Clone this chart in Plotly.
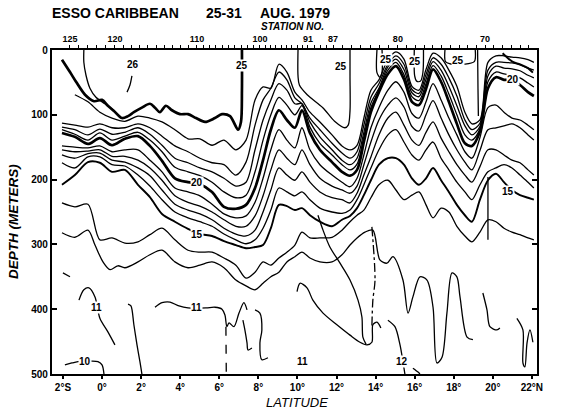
import plotly.graph_objects as go

# ---------------------------------------------------------------------------
# Temperature section, ESSO CARIBBEAN 25-31 Aug 1979
# Isotherm depths (m) read along the section (latitude, deg N; negative = S)
# ---------------------------------------------------------------------------

KNOT_LAT = [-2.05, -1.39, -0.72, -0.11, 0.51, 1.17, 1.84, 2.45, 3.07, 3.73,
            4.40, 5.01, 5.63, 6.24, 6.85, 7.37, 7.83, 8.24, 8.64, 9.05,
            9.46, 9.87, 10.23, 10.64, 11.15, 11.77, 12.28, 12.69, 13.05, 13.40,
            13.76, 14.17, 14.63, 15.04, 15.45, 15.86, 16.22, 16.58, 16.94, 17.35,
            17.75, 18.16, 18.57, 18.93, 19.34, 19.75, 20.16, 20.57, 20.98, 21.39,
            21.80, 22.10]

ISO_24 = [None, 69, 80, 96, 105, 110, 102, 105, 111, 123, 137, 137, 147, 139, 154, 139, 77, 57, 59, 22,
          34, 65, 77, 96, 111, 131, 148, 154, 147, 105, 62, 46, 15, 3, 14, 56, 62, 30, 5, 12,
          31, 56, 96, 114, 108, 19, 9, 9, 11, 12, 15, 19]
ISO_23 = [113, 116, 119, 114, 120, 120, 114, 120, 133, 148, 157, 167, 174, 177, 193, 173, 116, 77, 59, 34,
          46, 74, 83, 105, 123, 144, 159, 167, 157, 116, 73, 52, 22, 9, 22, 61, 67, 38, 12, 22,
          43, 71, 108, 123, 113, 31, 19, 19, 20, 23, 28, 31]
ISO_22 = [119, 123, 131, 122, 130, 127, 120, 130, 147, 167, 174, 182, 188, 198, 210, 204, 154, 108, 77, 52,
          62, 83, 83, 111, 134, 154, 170, 177, 167, 127, 82, 59, 26, 14, 30, 66, 72, 45, 18, 31,
          56, 86, 117, 131, 118, 40, 25, 28, 29, 32, 39, 43]
ISO_21 = [123, 130, 139, 128, 139, 133, 127, 139, 157, 181, 188, 194, 204, 219, 228, 224, 188, 139, 100, 73,
          85, 100, 86, 119, 144, 162, 177, 185, 176, 134, 89, 62, 31, 19, 38, 72, 78, 52, 24, 40,
          68, 100, 131, 139, 122, 49, 34, 37, 39, 43, 51, 57]
ISO_20 = [128, 134, 145, 136, 147, 137, 133, 148, 171, 198, 204, 207, 219, 242, 245, 239, 213, 170, 123, 93,
          108, 120, 93, 128, 154, 173, 188, 194, 185, 142, 96, 65, 37, 25, 45, 80, 85, 60, 30, 49,
          80, 114, 144, 148, 126, 59, 42, 46, 46, 54, 65, 71]
ISO_19 = [148, 150, 151, 148, 157, 154, 154, 170, 188, 213, 219, 225, 238, 253, 259, 256, 235, 198, 154, 123,
          139, 151, 120, 154, 177, 193, 204, 211, 198, 162, 120, 89, 62, 49, 65, 98, 105, 80, 52, 77,
          105, 131, 157, 167, 135, 89, 85, 96, 105, 108, 116, 123]
ISO_18 = [154, 157, 156, 154, 164, 164, 170, 182, 201, 225, 235, 241, 250, 262, 272, 272, 256, 225, 185, 154,
          167, 177, 154, 177, 198, 210, 216, 221, 210, 177, 142, 108, 85, 74, 88, 118, 125, 100, 78, 105,
          131, 154, 173, 185, 155, 123, 120, 117, 114, 120, 131, 139]
ISO_17 = [162, 167, 160, 159, 170, 173, 182, 194, 216, 238, 247, 253, 262, 275, 284, 287, 278, 250, 216, 182,
          193, 201, 188, 204, 219, 228, 231, 236, 221, 193, 165, 131, 105, 96, 116, 139, 147, 127, 111, 136,
          157, 177, 193, 204, 180, 154, 154, 162, 170, 174, 185, 193]
ISO_16 = [174, 182, 165, 165, 177, 179, 193, 210, 231, 250, 259, 265, 272, 284, 293, 299, 293, 275, 247, 213,
          219, 225, 219, 231, 244, 250, 252, 247, 231, 208, 182, 154, 131, 123, 142, 162, 170, 154, 142, 167,
          185, 204, 219, 231, 208, 188, 182, 177, 182, 193, 204, 213]
ISO_15 = [208, 193, 173, 174, 188, 185, 208, 227, 253, 265, 276, 284, 287, 295, 301, 306, 304, 301, 275, 239,
          241, 247, 244, 255, 265, 272, 262, 256, 244, 224, 201, 177, 167, 167, 177, 198, 208, 198, 182, 201,
          219, 239, 255, 265, 231, 201, 191, 204, 216, 224, 228, 231]
ISO_14 = [236, 242, 238, 293, 290, 298, 296, 285, 275, 293, 309, 312, 312, 321, 332, 352, 343, 327, 332, 321,
          312, 301, 281, 290, 290, 289, 278, 265, 255, 247, 228, 208, 201, 216, 231, 224, 219, 239, 259, 244,
          250, 272, 287, 296, 281, 262, 265, 275, 281, 285, 290, 293]

# 25 deg isotherm pieces (it outcrops in several places)
ISO_25_A_LAT = [-2.05, -1.64, -1.33, -0.87, -0.41, 0.0, 0.30, 0.61, 1.02, 1.33, 1.63, 2.04, 2.45, 2.71,
                2.96, 3.27, 3.58, 3.99, 4.40, 4.81, 5.27, 5.78, 6.14, 6.55, 6.96, 7.11, 7.16, 7.16]
ISO_25_A_DEPTH = [15, 34, 49, 69, 79, 77, 86, 94, 105, 102, 96, 89, 83, 89,
                  96, 86, 93, 99, 99, 105, 111, 105, 99, 102, 123, 111, 62, 0]
ISO_25_B_LAT = [10.03, 10.03, 10.10, 10.50, 11.30, 11.90, 12.43, 12.60, 12.69, 12.69, 12.69]
ISO_25_B_DEPTH = [0, 40, 54, 69, 89, 110, 120, 116, 94, 40, 0]
ISO_25_C_LAT = [14.07, 14.07, 14.22, 14.33, 14.33]
ISO_25_C_DEPTH = [0, 35, 42, 34, 0]
ISO_25_D_LAT = [15.98, 16.00, 16.10, 16.30, 16.42, 16.45]
ISO_25_D_DEPTH = [0, 40, 48, 48, 35, 0]
ISO_25_E_LAT = [17.55, 17.58, 17.90, 18.50, 19.05, 19.10]
ISO_25_E_DEPTH = [0, 18, 22, 22, 18, 0]
ISO_25_F_LAT = [19.22, 19.24, 19.26]
ISO_25_F_DEPTH = [0, 60, 102]

# 26 deg pieces
ISO_26_A_LAT = [1.53, 1.43, 1.28]
ISO_26_A_DEPTH = [40, 54, 65]
ISO_26_B_LAT = [-0.93, -0.93, -0.82, -0.62, -0.31, 0.15, 0.61]
ISO_26_B_DEPTH = [0, 19, 39, 59, 73, 83, 93]

# near-surface line at the northern end
NORTH_SURF_LAT = [20.5, 21.0, 21.4, 21.8, 22.05]
NORTH_SURF_DEPTH = [5, 18, 22, 28, 35]

# 13 deg
ISO_13_LAT = [-2.05, -1.39, -0.72, -0.36, 0.05, 0.41, 0.81, 1.17, 1.84, 2.45, 3.07, 3.73, 4.40, 5.01,
              5.63, 6.24, 6.85, 7.37, 7.83, 8.24, 8.64, 9.05, 9.46, 9.87, 10.23, 10.64, 11.15, 11.77,
              12.28, 12.69, 13.05, 13.46, 13.86, 14.22, 14.58, 14.89, 15.40, 15.66, 15.91, 16.27,
              16.63, 16.94, 17.14, 17.40, 17.65, 17.91, 18.16, 18.32, 18.68, 18.98]
ISO_13_DEPTH = [282, 289, 278, 301, 327, 339, 333, 336, 327, 316, 309, 327, 336, 332,
                327, 336, 355, 364, 370, 360, 350, 343, 327, 319, 312, 321, 327, 327,
                316, 301, 290, 281, 278, 324, 329, 319, 355, 406, 381, 350,
                355, 397, 483, 474, 406, 344, 350, 381, 443, 447]

# 12 deg: tongue south of 14N and the branch near 15N
ISO_12_LOW_LAT = [9.98, 10.13, 10.49, 10.79, 11.31, 12.02, 12.69, 13.20, 13.56, 13.81, 13.86, 14.07, 14.27]
ISO_12_LOW_DEPTH = [373, 360, 367, 386, 406, 424, 440, 451, 455, 451, 424, 420, 429]
ISO_12_UP_LAT = [11.05, 11.31, 11.66, 12.18, 12.69, 13.10, 13.30, 13.35, 13.51]
ISO_12_UP_DEPTH = [255, 278, 304, 329, 355, 386, 412, 443, 454]
ISO_12_N_LAT = [14.63, 14.99, 15.25, 15.40, 15.50]
ISO_12_N_DEPTH = [417, 427, 455, 481, 500]

# 11 deg pieces
ISO_11_A_LAT = [-1.18, -0.93, -0.67, -0.36, -0.11, 0.30, 0.66]
ISO_11_A_DEPTH = [386, 370, 367, 381, 414, 435, 455]
ISO_11_B_LAT = [1.33, 1.48, 1.63, 1.79, 1.94, 2.04]
ISO_11_B_DEPTH = [392, 395, 424, 455, 481, 500]
ISO_11_C_LAT = [2.71, 3.07, 3.48, 3.94, 4.40, 5.32, 5.78, 6.14, 6.29, 6.39, 6.50, 6.75, 7.01, 7.26, 7.42]
ISO_11_C_DEPTH = [397, 390, 389, 395, 398, 398, 397, 400, 409, 427, 421, 427, 406, 390, 401]
ISO_11_D_LAT = [7.21, 7.31, 7.42, 7.47, 7.67]
ISO_11_D_DEPTH = [417, 432, 452, 463, 460]
ISO_11_E_LAT = [7.83, 8.08, 8.18, 8.08, 8.18, 8.49]
ISO_11_E_DEPTH = [401, 406, 432, 452, 478, 475]
ISO_11_F_LAT = [19.49, 19.70, 19.85, 20.21, 20.36]
ISO_11_F_DEPTH = [375, 401, 427, 432, 429]
ISO_11_G_LAT = [21.23, 21.54, 21.54, 21.64, 21.75, 21.90, 22.05]
ISO_11_G_DEPTH = [414, 432, 483, 489, 452, 432, 451]
ISO_11_H_LAT = [15.91, 16.17, 16.27]
ISO_11_H_DEPTH = [491, 497, 500]

# 10 deg
ISO_10_LAT = [-1.90, -1.54, -1.23, -0.52, -0.21, 0.0, 0.10]
ISO_10_DEPTH = [486, 483, 481, 480, 481, 486, 500]

# broken / uncertain pieces
DASH_A_LAT = [-2.0, -1.64]
DASH_A_DEPTH = [344, 350]
DASH_B_LAT = [6.34, 6.36]
DASH_B_DEPTH = [427, 500]
DASH_C_LAT = [13.81, 13.97, 13.86, 13.81]
DASH_C_DEPTH = [273, 355, 386, 427]
VERT_N_LAT = [19.75, 19.75]
VERT_N_DEPTH = [196, 293]

# contour labels
LABEL_TEXT = ["26", "25", "25", "25", "25", "25", "20", "20", "15", "15", "11", "11", "11", "12", "10"]
LABEL_LAT = [1.58, 7.16, 12.25, 14.55, 16.01, 18.22, 4.86, 21.03, 4.86, 20.77, -0.26, 4.86, 10.28, 15.35, -0.87]
LABEL_DEPTH = [23, 24, 25, 15, 18, 16, 205, 46, 285, 219, 398, 398, 481, 481, 481]

# axes
LAT_TICKS = [-2, 0, 2, 4, 6, 8, 10, 12, 14, 16, 18, 20, 22]
LAT_TICK_TEXT = ["2°S", "0°", "2°", "4°", "6°", "8°", "10°", "12°", "14°", "16°", "18°", "20°", "22°N"]
DEPTH_TICKS = [0, 100, 200, 300, 400, 500]

STATION_LAT = [-1.64, -1.20, -0.76, -0.30, 0.16, 0.66, 1.08, 1.50, 1.93, 2.34, 2.77, 3.18, 3.60, 4.03,
               4.44, 4.86, 5.18, 5.51, 5.83, 6.15, 6.47, 6.80, 7.12, 7.44, 7.76, 8.08, 8.36, 8.63,
               8.90, 9.17, 9.45, 9.72, 9.99, 10.27, 10.54, 10.86, 11.18, 11.50, 11.82, 12.30, 12.77,
               13.25, 13.72, 14.19, 14.67, 15.14, 15.59, 16.03, 16.48, 16.93, 17.37, 17.82, 18.27,
               18.71, 19.16, 19.60, 20.05, 20.50, 20.95, 21.40, 21.85]
STATION_NO = {-1.64: "125", 0.66: "120", 4.86: "110", 8.08: "100", 10.54: "91", 11.82: "87",
              15.14: "80", 19.60: "70"}

THIN, MID, BOLD = 1.3, 1.9, 2.7

fig = go.Figure()


def add_line(lat, depth, width=THIN, dash="solid"):
    fig.add_trace(go.Scatter(
        x=lat, y=depth, mode="lines", connectgaps=False, hoverinfo="skip", showlegend=False,
        line=dict(color="black", width=width, dash=dash, shape="spline", smoothing=0.85)))


# main isotherms on the shared grid
for iso, w in [(ISO_24, THIN), (ISO_23, THIN), (ISO_22, THIN), (ISO_21, THIN), (ISO_20, BOLD),
               (ISO_19, THIN), (ISO_18, THIN), (ISO_17, THIN), (ISO_16, THIN), (ISO_15, MID),
               (ISO_14, THIN)]:
    add_line(KNOT_LAT, iso, w)

add_line(ISO_25_A_LAT, ISO_25_A_DEPTH, BOLD)
for la, de in [(ISO_25_B_LAT, ISO_25_B_DEPTH), (ISO_25_C_LAT, ISO_25_C_DEPTH),
               (ISO_25_D_LAT, ISO_25_D_DEPTH), (ISO_25_E_LAT, ISO_25_E_DEPTH),
               (ISO_25_F_LAT, ISO_25_F_DEPTH), (ISO_26_A_LAT, ISO_26_A_DEPTH),
               (ISO_26_B_LAT, ISO_26_B_DEPTH)]:
    add_line(la, de, THIN)
add_line(NORTH_SURF_LAT, NORTH_SURF_DEPTH, MID)

add_line(ISO_13_LAT, ISO_13_DEPTH, THIN)
for la, de in [(ISO_12_LOW_LAT, ISO_12_LOW_DEPTH), (ISO_12_UP_LAT, ISO_12_UP_DEPTH),
               (ISO_12_N_LAT, ISO_12_N_DEPTH), (ISO_11_A_LAT, ISO_11_A_DEPTH),
               (ISO_11_B_LAT, ISO_11_B_DEPTH), (ISO_11_C_LAT, ISO_11_C_DEPTH),
               (ISO_11_D_LAT, ISO_11_D_DEPTH), (ISO_11_E_LAT, ISO_11_E_DEPTH),
               (ISO_11_F_LAT, ISO_11_F_DEPTH), (ISO_11_G_LAT, ISO_11_G_DEPTH),
               (ISO_11_H_LAT, ISO_11_H_DEPTH), (ISO_10_LAT, ISO_10_DEPTH),
               (VERT_N_LAT, VERT_N_DEPTH)]:
    add_line(la, de, THIN)
add_line(DASH_A_LAT, DASH_A_DEPTH, THIN, "dash")
add_line(DASH_B_LAT, DASH_B_DEPTH, THIN, "dash")
add_line(DASH_C_LAT, DASH_C_DEPTH, THIN, "dashdot")

# carrier for the station-number axis along the top
fig.add_trace(go.Scatter(x=STATION_LAT, y=[0] * len(STATION_LAT), xaxis="x2", mode="markers",
                         marker=dict(opacity=0), hoverinfo="skip", showlegend=False))

BOLD_FONT = dict(family="Liberation Sans, Arial, sans-serif", color="black", weight="bold")

for t, la, de in zip(LABEL_TEXT, LABEL_LAT, LABEL_DEPTH):
    fig.add_annotation(x=la, y=de, xref="x", yref="y", text=t, showarrow=False,
                       bgcolor="white", borderpad=0, font=dict(size=10, **BOLD_FONT))

X_RANGE = [-2.56, 22.26]

fig.update_layout(
    width=562, height=413,
    margin=dict(l=52, r=25, t=50, b=39),
    paper_bgcolor="white", plot_bgcolor="white",
    xaxis=dict(range=X_RANGE, tickmode="array", tickvals=LAT_TICKS, ticktext=LAT_TICK_TEXT,
               ticks="outside", ticklen=3, tickwidth=1.5, tickcolor="black",
               showline=True, linewidth=2.2, linecolor="black", showgrid=False, zeroline=False,
               tickfont=dict(size=10, **BOLD_FONT)),
    xaxis2=dict(range=X_RANGE, overlaying="x", side="top", anchor="y", tickmode="array",
                tickvals=STATION_LAT, ticktext=[STATION_NO.get(s, "") for s in STATION_LAT],
                ticks="outside", ticklen=3, tickwidth=1.2, tickcolor="black",
                showline=True, linewidth=1.6, linecolor="black", showgrid=False, zeroline=False,
                tickfont=dict(size=9, **BOLD_FONT)),
    yaxis=dict(range=[500, 0], tickmode="array", tickvals=DEPTH_TICKS,
               ticks="inside", ticklen=5, tickwidth=1.5, tickcolor="black", mirror="ticks",
               showline=True, linewidth=2.2, linecolor="black", showgrid=False, zeroline=False,
               tickfont=dict(size=10, **BOLD_FONT)),
)

TITLE_FONT = dict(family="Liberation Sans, Arial, sans-serif", color="black", weight="bold", size=14)
fig.add_annotation(xref="paper", yref="paper", x=-0.004, y=1.113, xanchor="left", yanchor="middle",
                   text="ESSO CARIBBEAN", showarrow=False, font=TITLE_FONT)
fig.add_annotation(xref="paper", yref="paper", x=0.313, y=1.113, xanchor="left", yanchor="middle",
                   text="25-31", showarrow=False, font=TITLE_FONT)
fig.add_annotation(xref="paper", yref="paper", x=0.425, y=1.113, xanchor="left", yanchor="middle",
                   text="AUG. 1979", showarrow=False, font=TITLE_FONT)
fig.add_annotation(xref="paper", yref="paper", x=0.495, y=1.071, xanchor="center", yanchor="middle",
                   text="STATION NO.", showarrow=False,
                   font=dict(size=10, style="italic", **BOLD_FONT))
fig.add_annotation(xref="paper", yref="paper", x=-0.078, y=0.47, xanchor="center", yanchor="middle",
                   text="DEPTH (METERS)", textangle=-90, showarrow=False,
                   font=dict(size=13.5, style="italic", **BOLD_FONT))
fig.add_annotation(xref="paper", yref="paper", x=0.505, y=-0.088, xanchor="center", yanchor="middle",
                   text="LATITUDE", showarrow=False,
                   font=dict(size=13, style="italic", family="Liberation Sans, Arial, sans-serif",
                             color="black"))

fig.write_html("out.html")
